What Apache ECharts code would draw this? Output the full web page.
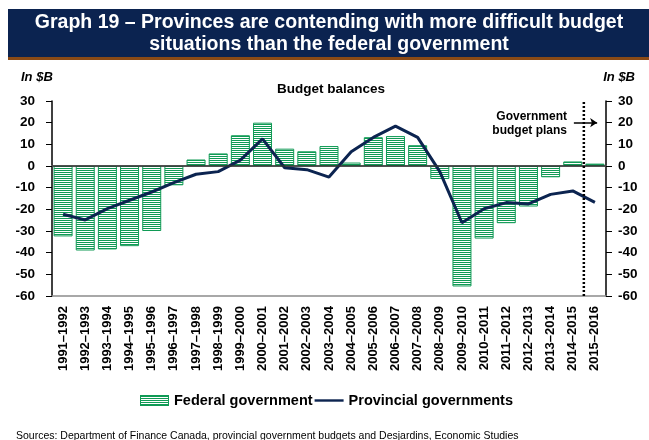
<!DOCTYPE html>
<html>
<head>
<meta charset="utf-8">
<script src="https://cdn.jsdelivr.net/npm/echarts@6/dist/echarts.min.js"></script>
<style>
  html, body { margin: 0; padding: 0; background: #fff; }
  #chart { width: 649px; height: 440px; }
</style>
</head>
<body>
<div id="chart"></div>
<script>
// Fiscal years
const years = [
  '1991–1992','1992–1993','1993–1994','1994–1995','1995–1996','1996–1997',
  '1997–1998','1998–1999','1999–2000','2000–2001','2001–2002','2002–2003',
  '2003–2004','2004–2005','2005–2006','2006–2007','2007–2008','2008–2009',
  '2009–2010','2010–2011','2011–2012','2012–2013','2013–2014','2014–2015',
  '2015–2016'
];

// Budget balance, federal government ($B)
const federal = [
  -32.5, -39.0, -38.5, -37.0, -30.0, -8.9,
  3.0, 5.8, 14.2, 20.0, 8.0, 6.8,
  9.2, 1.6, 13.3, 13.8, 9.6, -6.0,
  -55.6, -33.5, -26.4, -18.7, -5.2, 2.1,
  1.1
];

// Budget balance, provincial governments ($B)
const provincial = [
  -22.3, -24.9, -19.7, -15.8, -12.0, -7.7,
  -3.8, -2.6, 2.7, 12.5, -0.8, -1.7,
  -5.1, 6.6, 13.2, 18.4, 13.2, -2.6,
  -26.2, -19.7, -16.9, -17.5, -13.1, -11.5,
  -16.8
];

// Value-axis ticks
const yMin = -60, yMax = 30, yStep = 10;

// Start of the government budget plans (category boundary) and its arrow
const planStart = 24;
const planArrow = [[23.55, 20], [24.6, 20]];

const GREEN = '#109a55';
const NAVY = '#0c2450';
const FONT = 'Liberation Sans, Arial, sans-serif';

const chart = echarts.init(document.getElementById('chart'), null, { renderer: 'canvas' });

// Horizontal stripe fill for the federal bars
function stripeTile() {
  const c = document.createElement('canvas');
  c.width = 4; c.height = 2;
  const ctx = c.getContext('2d');
  ctx.fillStyle = '#ffffff';
  ctx.fillRect(0, 0, 4, 2);
  ctx.fillStyle = GREEN;
  ctx.fillRect(0, 0, 4, 1);
  return c;
}
const stripes = { image: stripeTile(), repeat: 'repeat' };

// Legend swatch for the federal bars: the same stripes inside a green frame
function stripeSwatch(w, h) {
  const c = document.createElement('canvas');
  c.width = w; c.height = h;
  const ctx = c.getContext('2d');
  ctx.fillStyle = '#ffffff';
  ctx.fillRect(0, 0, w, h);
  ctx.fillStyle = GREEN;
  for (let y = 1; y < h; y += 2) ctx.fillRect(0, y, w, 1);
  ctx.strokeStyle = GREEN;
  ctx.lineWidth = 1;
  ctx.strokeRect(0.5, 0.5, w - 1, h - 1);
  return c.toDataURL();
}

const option = {
  animation: false,
  textStyle: { fontFamily: FONT },
  graphic: [
    { type: 'rect', shape: { x: 8, y: 9, width: 641, height: 48 }, style: { fill: '#0b2350' }, silent: true },
    { type: 'rect', shape: { x: 8, y: 57, width: 641, height: 3 }, style: { fill: '#8a4a16' }, silent: true },
    {
      type: 'text', x: 329, y: 12, silent: true,
      style: {
        text: 'Graph 19 – Provinces are contending with more difficult budget\nsituations than the federal government',
        fill: '#fff', font: 'bold 19.5px ' + FONT, align: 'center', lineHeight: 22
      }
    },
    { type: 'text', x: 21, y: 77, silent: true,
      style: { text: 'In $B', fill: '#000', font: 'italic bold 13px ' + FONT, verticalAlign: 'middle' } },
    { type: 'text', x: 635, y: 77, silent: true,
      style: { text: 'In $B', fill: '#000', font: 'italic bold 13px ' + FONT, align: 'right', verticalAlign: 'middle' } },
    { type: 'text', x: 331, y: 89, silent: true,
      style: { text: 'Budget balances', fill: '#000', font: 'bold 13.5px ' + FONT, align: 'center', verticalAlign: 'middle' } },
    { type: 'text', x: 567, y: 110, silent: true,
      style: { text: 'Government\nbudget plans', fill: '#000', font: 'bold 12px ' + FONT, align: 'right', lineHeight: 14 } },
    { type: 'text', x: 16, y: 436, silent: true,
      style: {
        text: 'Sources: Department of Finance Canada, provincial government budgets and Desjardins, Economic Studies',
        fill: '#000', font: '10.5px ' + FONT, verticalAlign: 'middle'
      } }
  ],
  legend: {
    left: 135, top: 388,
    itemGap: 2,
    itemWidth: 29, itemHeight: 11,
    textStyle: { fontFamily: FONT, fontSize: 14.5, fontWeight: 'bold', color: '#000' },
    data: [
      { name: 'Federal government', icon: 'image://' + stripeSwatch(29, 11) },
      { name: 'Provincial governments', icon: 'path://M0,0 L36,0 L36,3 L0,3 Z', itemStyle: { color: NAVY } }
    ]
  },
  grid: { left: 52, right: 43, top: 101, bottom: 144, containLabel: false },
  xAxis: [
    {
      type: 'category',
      data: years,
      position: 'bottom',
      axisLine: { onZero: false, lineStyle: { color: '#8c8c8c', width: 1.5 } },
      axisTick: { show: false },
      axisLabel: {
        interval: 0, rotate: 90, margin: 10,
        fontFamily: FONT, fontSize: 13, fontWeight: 'bold', color: '#000'
      }
    },
    {
      type: 'value', min: 0, max: years.length, position: 'top',
      axisLine: { show: true, lineStyle: { color: '#8c8c8c', width: 1.5 } },
      axisTick: { show: false }, axisLabel: { show: false }, splitLine: { show: false }
    }
  ],
  yAxis: [
    {
      type: 'value', min: yMin, max: yMax, interval: yStep, position: 'left',
      axisLine: { show: true, lineStyle: { color: '#000', width: 1.5 } },
      axisTick: { show: true, length: 6, lineStyle: { color: '#000' } },
      splitLine: { show: false },
      axisLabel: { margin: 17, fontFamily: FONT, fontSize: 13.5, fontWeight: 'bold', color: '#000' }
    },
    {
      type: 'value', min: yMin, max: yMax, interval: yStep, position: 'right',
      axisLine: { show: true, lineStyle: { color: '#000', width: 1.5 } },
      axisTick: { show: true, length: 6, lineStyle: { color: '#000' } },
      splitLine: { show: false },
      axisLabel: { margin: 12, fontFamily: FONT, fontSize: 13.5, fontWeight: 'bold', color: '#000' }
    }
  ],
  series: [
    {
      name: 'Federal government',
      type: 'bar',
      data: federal,
      barWidth: 19,
      itemStyle: { color: stripes, borderColor: GREEN, borderWidth: 1 },
      markLine: {
        silent: true, symbol: 'none', label: { show: false },
        lineStyle: { color: '#333', width: 1.5, type: 'solid' },
        data: [{ yAxis: 0 }]
      },
      z: 2
    },
    {
      name: 'Provincial governments',
      type: 'line',
      data: provincial,
      symbol: 'none',
      lineStyle: { color: NAVY, width: 3 },
      itemStyle: { color: NAVY },
      z: 4
    },
    {
      name: 'plans',
      type: 'line',
      xAxisIndex: 1,
      data: [[planStart, yMin], [planStart, yMax]],
      symbol: 'none',
      silent: true,
      lineStyle: { color: '#000', width: 2.5, type: [2, 2] },
      markLine: {
        silent: true, symbol: ['none', 'arrow'], symbolSize: 7,
        label: { show: false },
        lineStyle: { color: '#000', width: 1.5, type: 'solid' },
        data: [[{ coord: planArrow[0] }, { coord: planArrow[1] }]]
      },
      z: 5
    }
  ]
};

chart.setOption(option);
</script>
</body>
</html>
